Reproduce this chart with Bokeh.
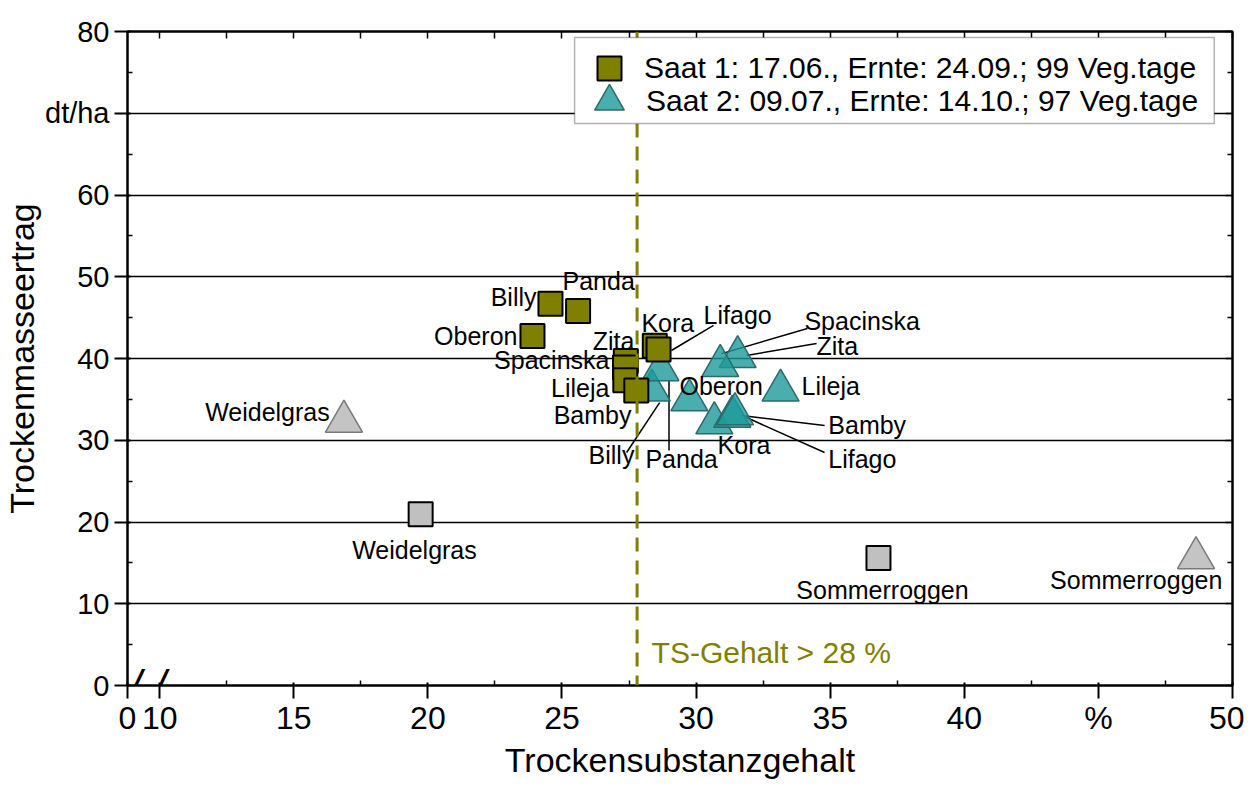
from bokeh.plotting import figure
from bokeh.models import (ColumnDataSource, FixedTicker, LinearAxis, Legend,
                          LegendItem, Label, Span, Range1d, BoxAnnotation)
from bokeh.core.properties import value
from bokeh.embed import file_html
from bokeh.resources import INLINE

FONT = "Liberation Sans"

# ---------------- data ----------------
# Saat 1 (squares)
s1_names = ["Billy", "Panda", "Oberon", "Kora", "Lifago", "Zita", "Spacinska", "Lileja", "Bamby"]
s1_ts = [24.57, 25.60, 23.90, 28.46, 28.60, 27.38, 27.35, 27.36, 27.77]
s1_dm = [46.70, 45.80, 42.75, 41.55, 41.10, 39.70, 38.90, 37.33, 36.10]
# Saat 2 (triangles)
s2_names = ["Billy", "Panda", "Oberon", "Kora", "Lifago", "Bamby", "Zita", "Spacinska", "Lileja"]
s2_ts = [28.35, 28.67, 29.75, 30.68, 31.35, 31.45, 31.55, 30.90, 33.15]
s2_dm = [36.10, 38.60, 34.90, 32.10, 32.90, 33.20, 40.20, 39.10, 36.10]
# Reference crops (grey)
ref1_names = ["Weidelgras", "Sommerroggen"]
ref1_ts = [19.73, 36.80]
ref1_dm = [20.95, 15.60]
ref2_names = ["Weidelgras", "Sommerroggen"]
ref2_ts = [16.87, 48.64]
ref2_dm = [32.30, 15.60]

ts_threshold = 27.8

# label anchors (data units)
lab_text = ["Billy", "Panda", "Oberon", "Kora", "Lifago", "Zita", "Spacinska", "Lileja", "Bamby",
            "Weidelgras", "Sommerroggen",
            "Billy", "Panda", "Oberon", "Kora", "Lifago", "Bamby", "Zita", "Spacinska", "Lileja",
            "Weidelgras", "Sommerroggen"]
lab_x = [24.05, 25.02, 23.34, 27.96, 30.28, 27.70, 26.77, 26.77, 27.59,
         19.50, 36.95,
         27.70, 28.11, 29.38, 30.80, 34.93, 34.93, 34.49, 34.04, 33.93,
         16.34, 46.41]
lab_y = [47.5, 49.5, 42.7, 44.4, 45.3, 42.1, 39.8, 36.4, 33.1,
         16.6, 11.7,
         28.2, 27.7, 36.6, 29.4, 27.7, 31.9, 41.5, 44.6, 36.6,
         33.5, 12.9]
lab_align = ["right", "left", "right", "left", "left", "right", "right", "right", "right",
             "center", "center",
             "right", "left", "left", "left", "left", "left", "left", "left", "left",
             "right", "center"]

# leader lines
lead_x0 = [29.08, 28.64, 28.99, 31.69, 31.88, 30.95, 31.88]
lead_y0 = [40.98, 34.60, 37.30, 33.03, 32.78, 40.60, 40.37]
lead_x1 = [30.65, 27.41, 28.99, 34.79, 34.79, 34.15, 34.49]
lead_y1 = [44.04, 28.50, 28.75, 31.80, 28.50, 43.67, 41.83]

x_ticks = [8.8, 10, 15, 20, 25, 30, 35, 40, 45, 50]
x_minor = [12.5, 17.5, 22.5, 27.5, 32.5, 37.5, 42.5, 47.5]
x_top_ticks = [10, 12.5, 15, 17.5, 20, 22.5, 25, 27.5, 30, 32.5, 35, 37.5, 40, 42.5, 45, 47.5, 50]
y_ticks = [0, 10, 20, 30, 40, 50, 60, 70, 80]
y_minor = [5, 15, 25, 35, 45, 55, 65, 75]

legend_labels = ["Saat 1: 17.06., Ernte: 24.09.; 99 Veg.tage",
                 "Saat 2: 09.07., Ernte: 14.10.; 97 Veg.tage"]

OLIVE = "#808000"

# ---------------- figure ----------------
p = figure(frame_width=1105, frame_height=654,
           x_range=Range1d(8.8, 50), y_range=Range1d(0, 80),
           output_backend="svg", toolbar_location=None,
           min_border_left=120, min_border_top=31, min_border_bottom=60,
           min_border_right=12, background_fill_color="white")

p.outline_line_color = "black"
p.outline_line_width = 2
p.xgrid.visible = False
p.ygrid.grid_line_color = "black"
p.ygrid.grid_line_width = 1.5
p.ygrid.ticker = FixedTicker(ticks=y_ticks)

# axes
xa = p.xaxis[0]
xa.ticker = FixedTicker(ticks=x_ticks, minor_ticks=x_minor)
xa.major_label_overrides = {8.8: "0", 45: "%"}
xa.axis_label = "Trockensubstanzgehalt"
ya = p.yaxis[0]
ya.ticker = FixedTicker(ticks=y_ticks, minor_ticks=y_minor)
ya.major_label_overrides = {70: "dt/ha"}
ya.axis_label = "Trockenmasseertrag"
for ax in (xa, ya):
    ax.axis_line_width = 2
    ax.major_tick_line_width = 2
    ax.minor_tick_line_width = 1.5
    ax.major_tick_out = 13
    ax.major_tick_in = 3
    ax.minor_tick_in = 5
    ax.minor_tick_out = 0
    ax.major_label_text_font = FONT
    ax.major_label_text_color = "black"
    ax.axis_label_text_font = FONT
    ax.axis_label_text_font_style = "normal"
    ax.axis_label_text_color = "black"
xa.major_label_text_font_size = "32px"
xa.axis_label_text_font_size = "34px"
xa.major_label_standoff = 1
xa.axis_label_standoff = 2
ya.major_label_text_font_size = "29px"
ya.axis_label_text_font_size = "34px"
ya.major_label_standoff = 5
ya.axis_label_standoff = 1

top_ax = LinearAxis(ticker=FixedTicker(ticks=x_top_ticks))
right_ax = LinearAxis(ticker=FixedTicker(ticks=y_ticks, minor_ticks=y_minor))
for ax in (top_ax, right_ax):
    ax.axis_line_width = 2
    ax.major_tick_line_width = 1.5
    ax.minor_tick_line_width = 1.5
    ax.major_tick_out = 0
    ax.major_tick_in = 7
    ax.minor_tick_in = 5
    ax.minor_tick_out = 0
    ax.major_label_text_font_size = "1px"
    ax.major_label_text_color = None
    ax.major_label_standoff = 0
p.add_layout(top_ax, "above")
p.add_layout(right_ax, "right")

# threshold line
p.add_layout(Span(location=ts_threshold, dimension="height", line_color=OLIVE,
                  line_width=3, line_dash="14 9"))

# leader lines
p.segment(x0=lead_x0, y0=lead_y0, x1=lead_x1, y1=lead_y1,
          line_color="black", line_width=1.5)

# points: triangles first, then squares
src2 = ColumnDataSource(dict(x=s2_ts, y=s2_dm, name=s2_names))
r_tri = p.scatter("x", "y", source=src2, marker="triangle", size=37,
                  fill_color="#1d9a9a", fill_alpha=0.8,
                  line_color="#2b6b6b", line_width=1.5)
srcr2 = ColumnDataSource(dict(x=ref2_ts, y=ref2_dm, name=ref2_names))
p.scatter("x", "y", source=srcr2, marker="triangle", size=37,
          fill_color="#c4c4c4", line_color="#7a7a7a", line_width=1.5)

src1 = ColumnDataSource(dict(x=s1_ts, y=s1_dm, name=s1_names))
r_sq = p.scatter("x", "y", source=src1, marker="square", size=24,
                 fill_color=OLIVE, line_color="black", line_width=2)
srcr1 = ColumnDataSource(dict(x=ref1_ts, y=ref1_dm, name=ref1_names))
p.scatter("x", "y", source=srcr1, marker="square", size=24,
          fill_color="#c0c0c0", line_color="black", line_width=2)

# point labels
lsrc = ColumnDataSource(dict(x=lab_x, y=lab_y, text=lab_text, align=lab_align))
p.text("x", "y", text="text", source=lsrc, text_align="align",
       text_baseline="middle", text_font=value(FONT), text_font_size="25px",
       text_color="black")

p.add_layout(Label(x=ts_threshold + 0.54, y=4.0, text="TS-Gehalt > 28 %",
                   text_font=FONT, text_font_size="30px", text_color=OLIVE,
                   text_baseline="middle", text_align="left"))

# axis break marks (crossing the x axis near its left end)
p.add_layout(Label(x=9.55, y=0, text="/ /", text_font=FONT,
                   text_font_size="44px", text_font_style="italic",
                   text_color="black", text_align="center",
                   text_baseline="middle"))

# legend frame (white box) and two single-entry legends
p.add_layout(BoxAnnotation(left=25.47, right=49.32, bottom=68.75, top=79.27,
                           fill_color="white", fill_alpha=1.0,
                           line_color="black", line_width=1.5))
leg_common = dict(orientation="vertical", border_line_color=None,
                  background_fill_alpha=0.0, label_text_font=FONT,
                  label_text_font_size="30px", label_text_color="black",
                  padding=0, margin=0, spacing=0)
leg1 = Legend(items=[LegendItem(label=legend_labels[0], renderers=[r_sq])],
              location=(452, 587), glyph_width=60, glyph_height=60,
              label_standoff=5, **leg_common)
leg2 = Legend(items=[LegendItem(label=legend_labels[1], renderers=[r_tri])],
              location=(445, 544), glyph_width=74, glyph_height=80,
              label_standoff=0, **leg_common)
p.add_layout(leg1)
p.add_layout(leg2)

open("out.html", "w").write(file_html(p, INLINE))
